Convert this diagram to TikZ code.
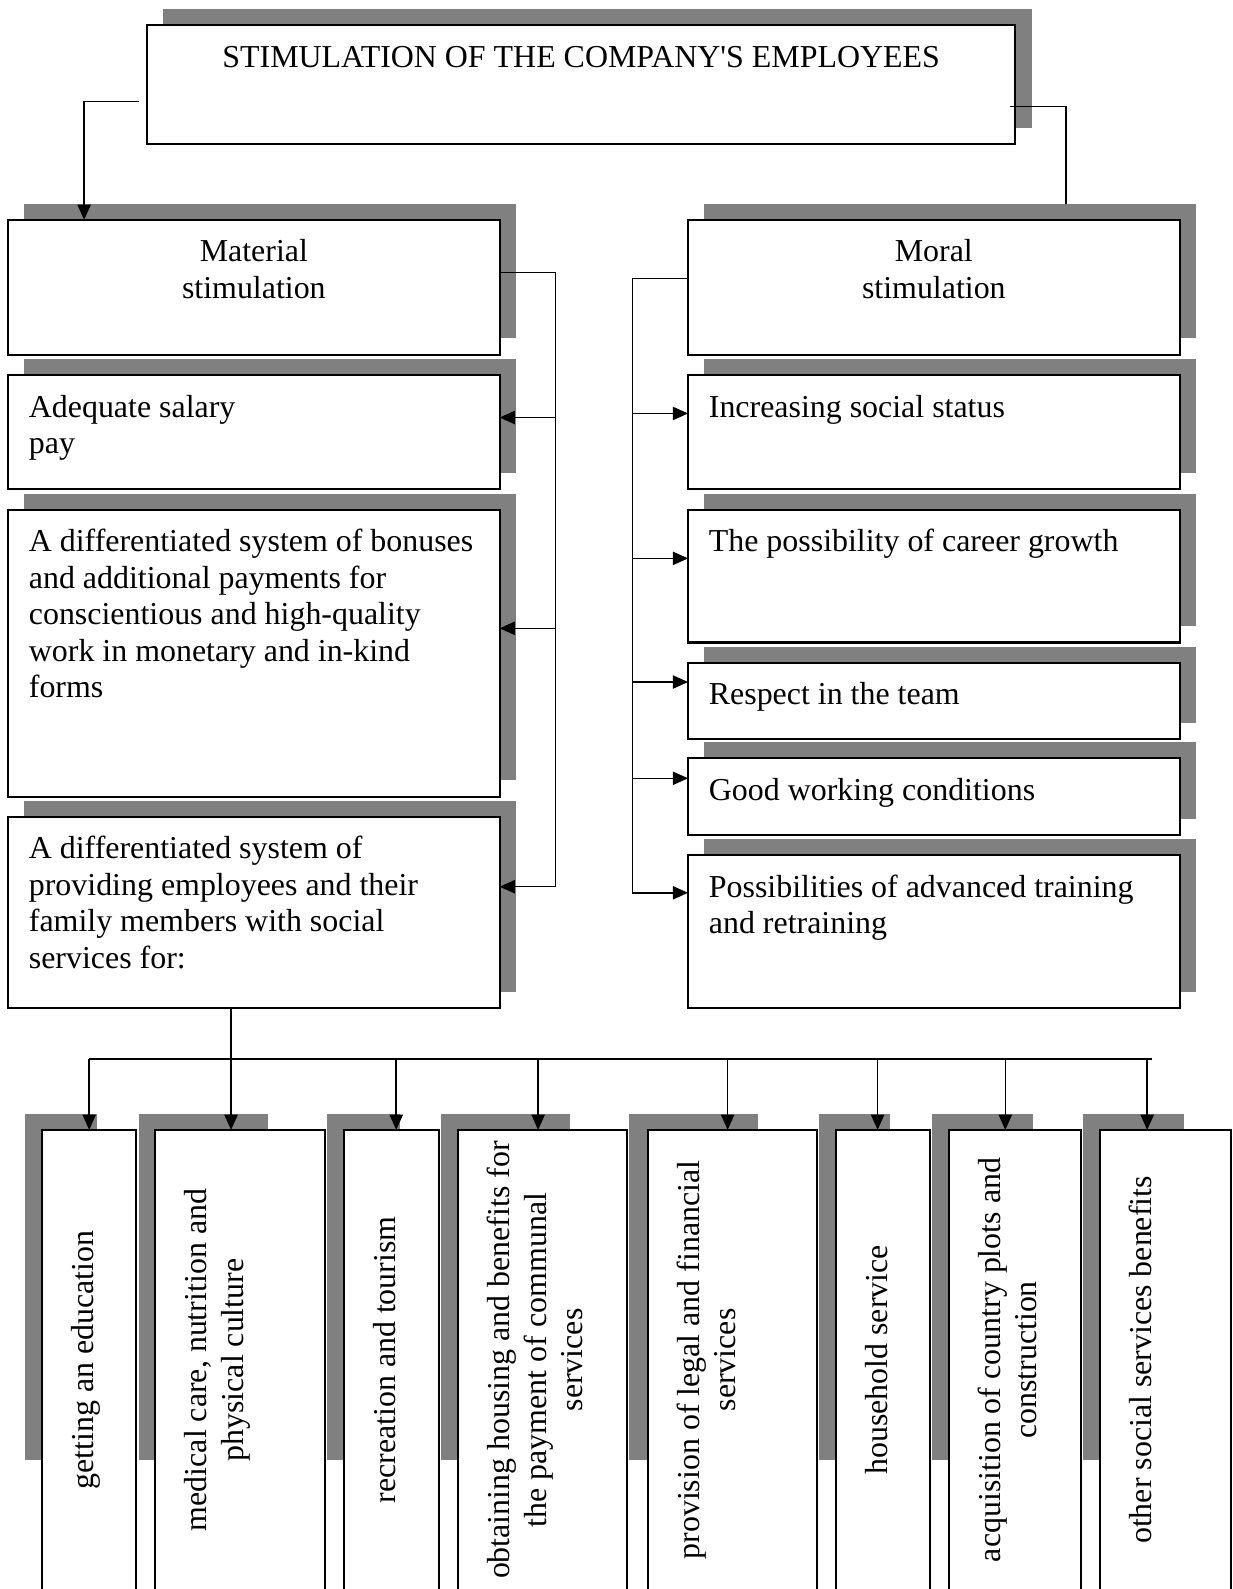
\documentclass[tikz,border=0pt]{standalone}
\usepackage{fontspec}
\setmainfont{Liberation Serif}[Ligatures=TeXOff]
\usetikzlibrary{arrows.meta,fit}
\definecolor{shadowgray}{HTML}{808080}
\tikzset{
  boxst/.style={draw, line width=1pt, fill=white, inner sep=0pt, outer sep=0pt},
  conn/.style={line width=0.75pt},
  arr/.style={line width=0.75pt, -{Triangle[length=7.5pt,width=6.5pt]}},
  txt/.style={inner sep=0pt, outer sep=0pt},
}
\newcommand\mybox[5]{%
  \fill[shadowgray] ({#2+16},{#3-16}) rectangle ({#4+16},{#5-16});
  \node[boxst, fit={(#2,#3) (#4,#5)}] (#1) {};
}
\newcommand\botbox[6]{%
  \fill[shadowgray] (#4,1099) rectangle (#5,1441);
  \node[boxst, fit={(#2,1115) (#3,1600)}] (#1) {};
  \node[txt, rotate=90, anchor=base] (#1t) at ({#2+51},1342) {\parbox[t]{400pt}{\centering #6}};
}
\newcommand\ltext[3]{%
  \node[txt, anchor=base west] (#1t) at ([shift={(20.5,41.5)}]#1.north west) {\parbox[t]{#2}{\raggedright #3}};
}
\newcommand\ctext[2]{%
  \node[txt, anchor=base] (#1t) at ([shift={(0,41.5)}]#1.north) {\parbox[t]{420pt}{\centering #2}};
}
\begin{document}
\begin{tikzpicture}[x=0.5pt, y=-0.5pt, font=\fontsize{15.75}{18}\selectfont]
\useasboundingbox (0,0) rectangle (1216,1568);
\clip (0,0) rectangle (1216,1568);

% top box
\mybox{title}{145}{25}{1002}{142}
\ctext{title}{STIMULATION OF THE COMPANY'S EMPLOYEES}

% two main boxes
\mybox{mat}{8}{217}{493}{350}
\ctext{mat}{Material\\stimulation}
\mybox{moral}{679}{217}{1164}{350}
\ctext{moral}{Moral\\stimulation}

% material column
\mybox{sal}{8}{370}{493}{483}
\ltext{sal}{240pt}{Adequate salary\\pay}
\mybox{bon}{8}{503}{493}{786}
\ltext{bon}{240pt}{A differentiated system of bonuses\\and additional payments for\\conscientious and high-quality\\work in monetary and in-kind\\forms}
\mybox{soc}{8}{806}{493}{995}
\ltext{soc}{240pt}{A differentiated system of\\providing employees and their\\family members with social\\services for:}

% moral column
\mybox{stat}{679}{370}{1164}{483}
\ltext{stat}{240pt}{Increasing social status}
\mybox{car}{679}{503}{1164}{634}
\ltext{car}{240pt}{The possibility of career growth}
\mybox{resp}{679}{654}{1164}{729}
\ltext{resp}{240pt}{Respect in the team}
\mybox{cond}{679}{748}{1164}{824}
\ltext{cond}{240pt}{Good working conditions}
\mybox{train}{679}{844}{1164}{995}
\ltext{train}{240pt}{Possibilities of advanced training\\and retraining}

% bottom boxes
\botbox{b1}{41}{134}{25}{96}{getting an education}
\botbox{b2}{153}{321}{137}{264}{medical care, nutrition and\\physical culture}
\botbox{b3}{339.5}{433}{323}{395}{recreation and tourism}
\botbox{b4}{452}{619}{435}{562}{obtaining housing and benefits for\\the payment of communal\\services}
\botbox{b5}{639}{806}{621}{748}{provision of legal and financial\\services}
\botbox{b6}{824.5}{918}{808}{878}{household service}
\botbox{b7}{936}{1067}{920}{1019}{acquisition of country plots and\\construction}
\botbox{b8}{1085.5}{1215}{1069}{1168}{other social services benefits}

% connectors from the title
\draw[arr] ([shift={(-8,16.5)}]title.west) -| ([shift={(75,0)}]mat.north west);
\draw[conn] ([shift={(-5,21.5)}]title.east) -| ([shift={(373,-16)}]moral.north west);

% material bus
\coordinate (lbt) at (548,269);
\coordinate (lbb) at (548,875);
\coordinate (la1) at (548,412);
\coordinate (la2) at (548,620);
\draw[conn] (mat.east |- lbt) -- (lbt) -- (lbb);
\draw[arr] (la1) -- (sal.east |- la1);
\draw[arr] (la2) -- (bon.east |- la2);
\draw[arr] (lbb) -- (soc.east |- lbb);

% moral bus
\coordinate (rbt) at (624,275);
\coordinate (rbb) at (624,881);
\coordinate (ra1) at (624,408);
\coordinate (ra2) at (624,551);
\coordinate (ra3) at (624,673);
\coordinate (ra4) at (624,768);
\draw[conn] (moral.west |- rbt) -- (rbt) -- (rbb);
\draw[arr] (ra1) -- (stat.west |- ra1);
\draw[arr] (ra2) -- (car.west |- ra2);
\draw[arr] (ra3) -- (resp.west |- ra3);
\draw[arr] (ra4) -- (cond.west |- ra4);
\draw[arr] (rbb) -- (train.west |- rbb);

% bottom bus
\coordinate (bb1) at (88,1045);
\coordinate (bb2) at (228,1045);
\coordinate (bb3) at (391,1045);
\coordinate (bb4) at (531,1045);
\coordinate (bb5) at (718,1045);
\coordinate (bb6) at (866,1045);
\coordinate (bb7) at (992,1045);
\coordinate (bb8) at (1132,1045);
\coordinate (bbe) at (1137,1045);
\draw[conn] (bb1) -- (bbe);
\draw[arr] (soc.south -| bb2) -- (b2.north -| bb2);
\draw[arr] (bb1) -- (b1.north -| bb1);
\draw[arr] (bb3) -- (b3.north -| bb3);
\draw[arr] (bb4) -- (b4.north -| bb4);
\draw[arr] (bb5) -- (b5.north -| bb5);
\draw[arr] (bb6) -- (b6.north -| bb6);
\draw[arr] (bb7) -- (b7.north -| bb7);
\draw[arr] (bb8) -- (b8.north -| bb8);
\end{tikzpicture}
\end{document}
